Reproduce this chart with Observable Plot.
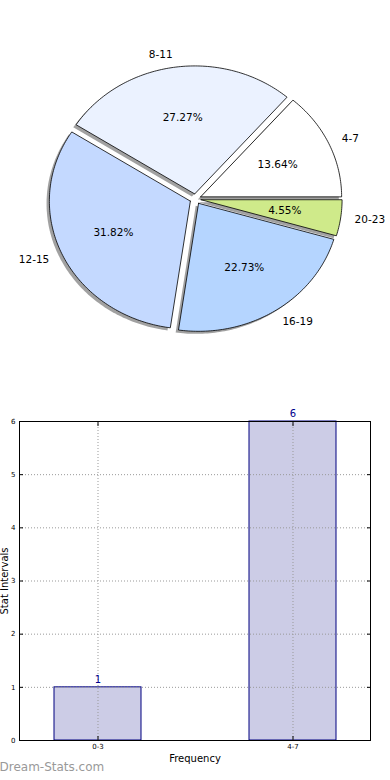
<!DOCTYPE html>
<html>
<head>
<meta charset="utf-8">
<script src="https://cdn.jsdelivr.net/npm/d3@7"></script>
<script src="https://cdn.jsdelivr.net/npm/@observablehq/plot@0.6"></script>
<style>
  html, body { margin: 0; padding: 0; background: #fff; }
  #root { position: relative; width: 390px; height: 780px; overflow: hidden; font-family: "DejaVu Sans", sans-serif; }
  #pie { position: absolute; left: 0; top: 0; }
  #bar { position: absolute; left: 0; top: 380px; }
  svg { overflow: visible; }
</style>
</head>
<body>
<div id="root"><div id="pie"></div><div id="bar"></div></div>
<script>
// ---- Pie data ----
const pieLabels = ["4-7", "8-11", "12-15", "16-19", "20-23"];
const pieValues = [3, 6, 7, 5, 1];
const pieColors = ["#ffffff", "#ebf2ff", "#c4d9ff", "#b5d5ff", "#cfea8a"];
const pieExplode = [0.04, 0.04, 0.04, 0.04, 0.04];

// ---- Bar data ----
const barLabels = ["0-3", "4-7"];
const barValues = [1, 6];
const yTicks = [0, 1, 2, 3, 4, 5, 6];

const FONT = "DejaVu Sans, sans-serif";

// build slices
const total = d3.sum(pieValues);
let acc = 0;
const slices = pieLabels.map((label, i) => {
  const a0 = acc / total * 2 * Math.PI;
  acc += pieValues[i];
  const a1 = acc / total * 2 * Math.PI;
  const mid = (a0 + a1) / 2;
  return {
    label, value: pieValues[i], color: pieColors[i], a0, a1, mid,
    cx: pieExplode[i] * Math.cos(mid), cy: pieExplode[i] * Math.sin(mid),
    pct: (pieValues[i] / total * 100).toFixed(2) + "%"
  };
});
const piePts = slices.flatMap(s => {
  const n = Math.max(2, Math.ceil((s.a1 - s.a0) / (Math.PI / 180)));
  const pts = [{slice: s.label, color: s.color, x: s.cx, y: s.cy}];
  for (let k = 0; k <= n; k++) {
    const a = s.a0 + (s.a1 - s.a0) * k / n;
    pts.push({slice: s.label, color: s.color, x: s.cx + Math.cos(a), y: s.cy + Math.sin(a)});
  }
  pts.push({slice: s.label, color: s.color, x: s.cx, y: s.cy});
  return pts;
});

const rx = 141, ry = 128, pcx = 195, pcy = 198.5, PW = 390, PH = 380;

const pie = Plot.plot({
  width: PW, height: PH, margin: 0,
  style: {fontFamily: FONT, background: "transparent"},
  x: {domain: [-pcx / rx, (PW - pcx) / rx], axis: null},
  y: {domain: [-(PH - pcy) / ry, pcy / ry], axis: null},
  color: {type: "identity"},
  marks: [
    Plot.line(piePts, {x: d => d.x - 0.02, y: d => d.y - 0.02, z: "slice", fill: "#444", fillOpacity: 0.5, stroke: "none"}),
    Plot.line(piePts, {x: "x", y: "y", z: "slice", fill: "color", stroke: "black", strokeWidth: 0.8}),
    Plot.text(slices.filter(s => Math.cos(s.mid) > 0), {x: s => s.cx + 1.1 * Math.cos(s.mid), y: s => s.cy + 1.1 * Math.sin(s.mid), text: "label", textAnchor: "start", fontSize: 10.5, fill: "black"}),
    Plot.text(slices.filter(s => Math.cos(s.mid) <= 0), {x: s => s.cx + 1.1 * Math.cos(s.mid), y: s => s.cy + 1.1 * Math.sin(s.mid), text: "label", textAnchor: "end", fontSize: 10.5, fill: "black"}),
    Plot.text(slices, {x: s => s.cx + 0.6 * Math.cos(s.mid), y: s => s.cy + 0.6 * Math.sin(s.mid), text: "pct", fontSize: 10.5, fill: "black"})
  ]
});
document.getElementById("pie").appendChild(pie);

const bars = barLabels.map((l, i) => ({label: l, value: barValues[i]}));

const bar = Plot.plot({
  width: 390, height: 400,
  marginTop: 41, marginBottom: 40, marginLeft: 19, marginRight: 20,
  style: {fontFamily: FONT, background: "transparent"},
  x: {type: "band", domain: barLabels, paddingInner: 0.554, paddingOuter: 0.174, label: null},
  y: {domain: [0, 6], label: null},
  marks: [
    Plot.barY(bars, {x: "label", y: "value", fill: "#ccccE6", stroke: "#000080", strokeWidth: 1}),
    Plot.gridY({ticks: yTicks, stroke: "#999", strokeOpacity: 1, strokeDasharray: "1,2"}),
    Plot.gridX({stroke: "#999", strokeOpacity: 1, strokeDasharray: "1,2"}),
    Plot.frame({stroke: "black", strokeWidth: 1}),
    Plot.axisY({ticks: yTicks, anchor: "left", tickSize: 0, tickPadding: 4, tickFormat: "d", fontSize: 7, label: null}),
    Plot.axisY({ticks: yTicks, anchor: "left", tickSize: -4, fill: "none", label: null}),
    Plot.axisY({ticks: yTicks, anchor: "right", tickSize: -4, fill: "none", label: null}),
    Plot.axisX({anchor: "bottom", tickSize: 0, tickPadding: 4, fontSize: 7, label: null}),
    Plot.axisX({anchor: "bottom", tickSize: -4, fill: "none", label: null}),
    Plot.axisX({anchor: "top", tickSize: -4, fill: "none", label: null}),
    Plot.text(bars, {x: "label", y: "value", text: d => String(d.value), dy: -8, fontSize: 10, fill: "#00008b"}),
    Plot.text(["Frequency"], {frameAnchor: "bottom", dy: 21, fontSize: 10, fill: "black"}),
    Plot.text(["Stat Intervals"], {frameAnchor: "left", textAnchor: "middle", dx: -15, rotate: -90, fontSize: 10, fill: "black"}),
    Plot.text(["Dream-Stats.com"], {frameAnchor: "bottom-left", textAnchor: "start", dx: -20, dy: 30, fontSize: 12, fill: "#999"})
  ]
});
document.getElementById("bar").appendChild(bar);
</script>
</body>
</html>
